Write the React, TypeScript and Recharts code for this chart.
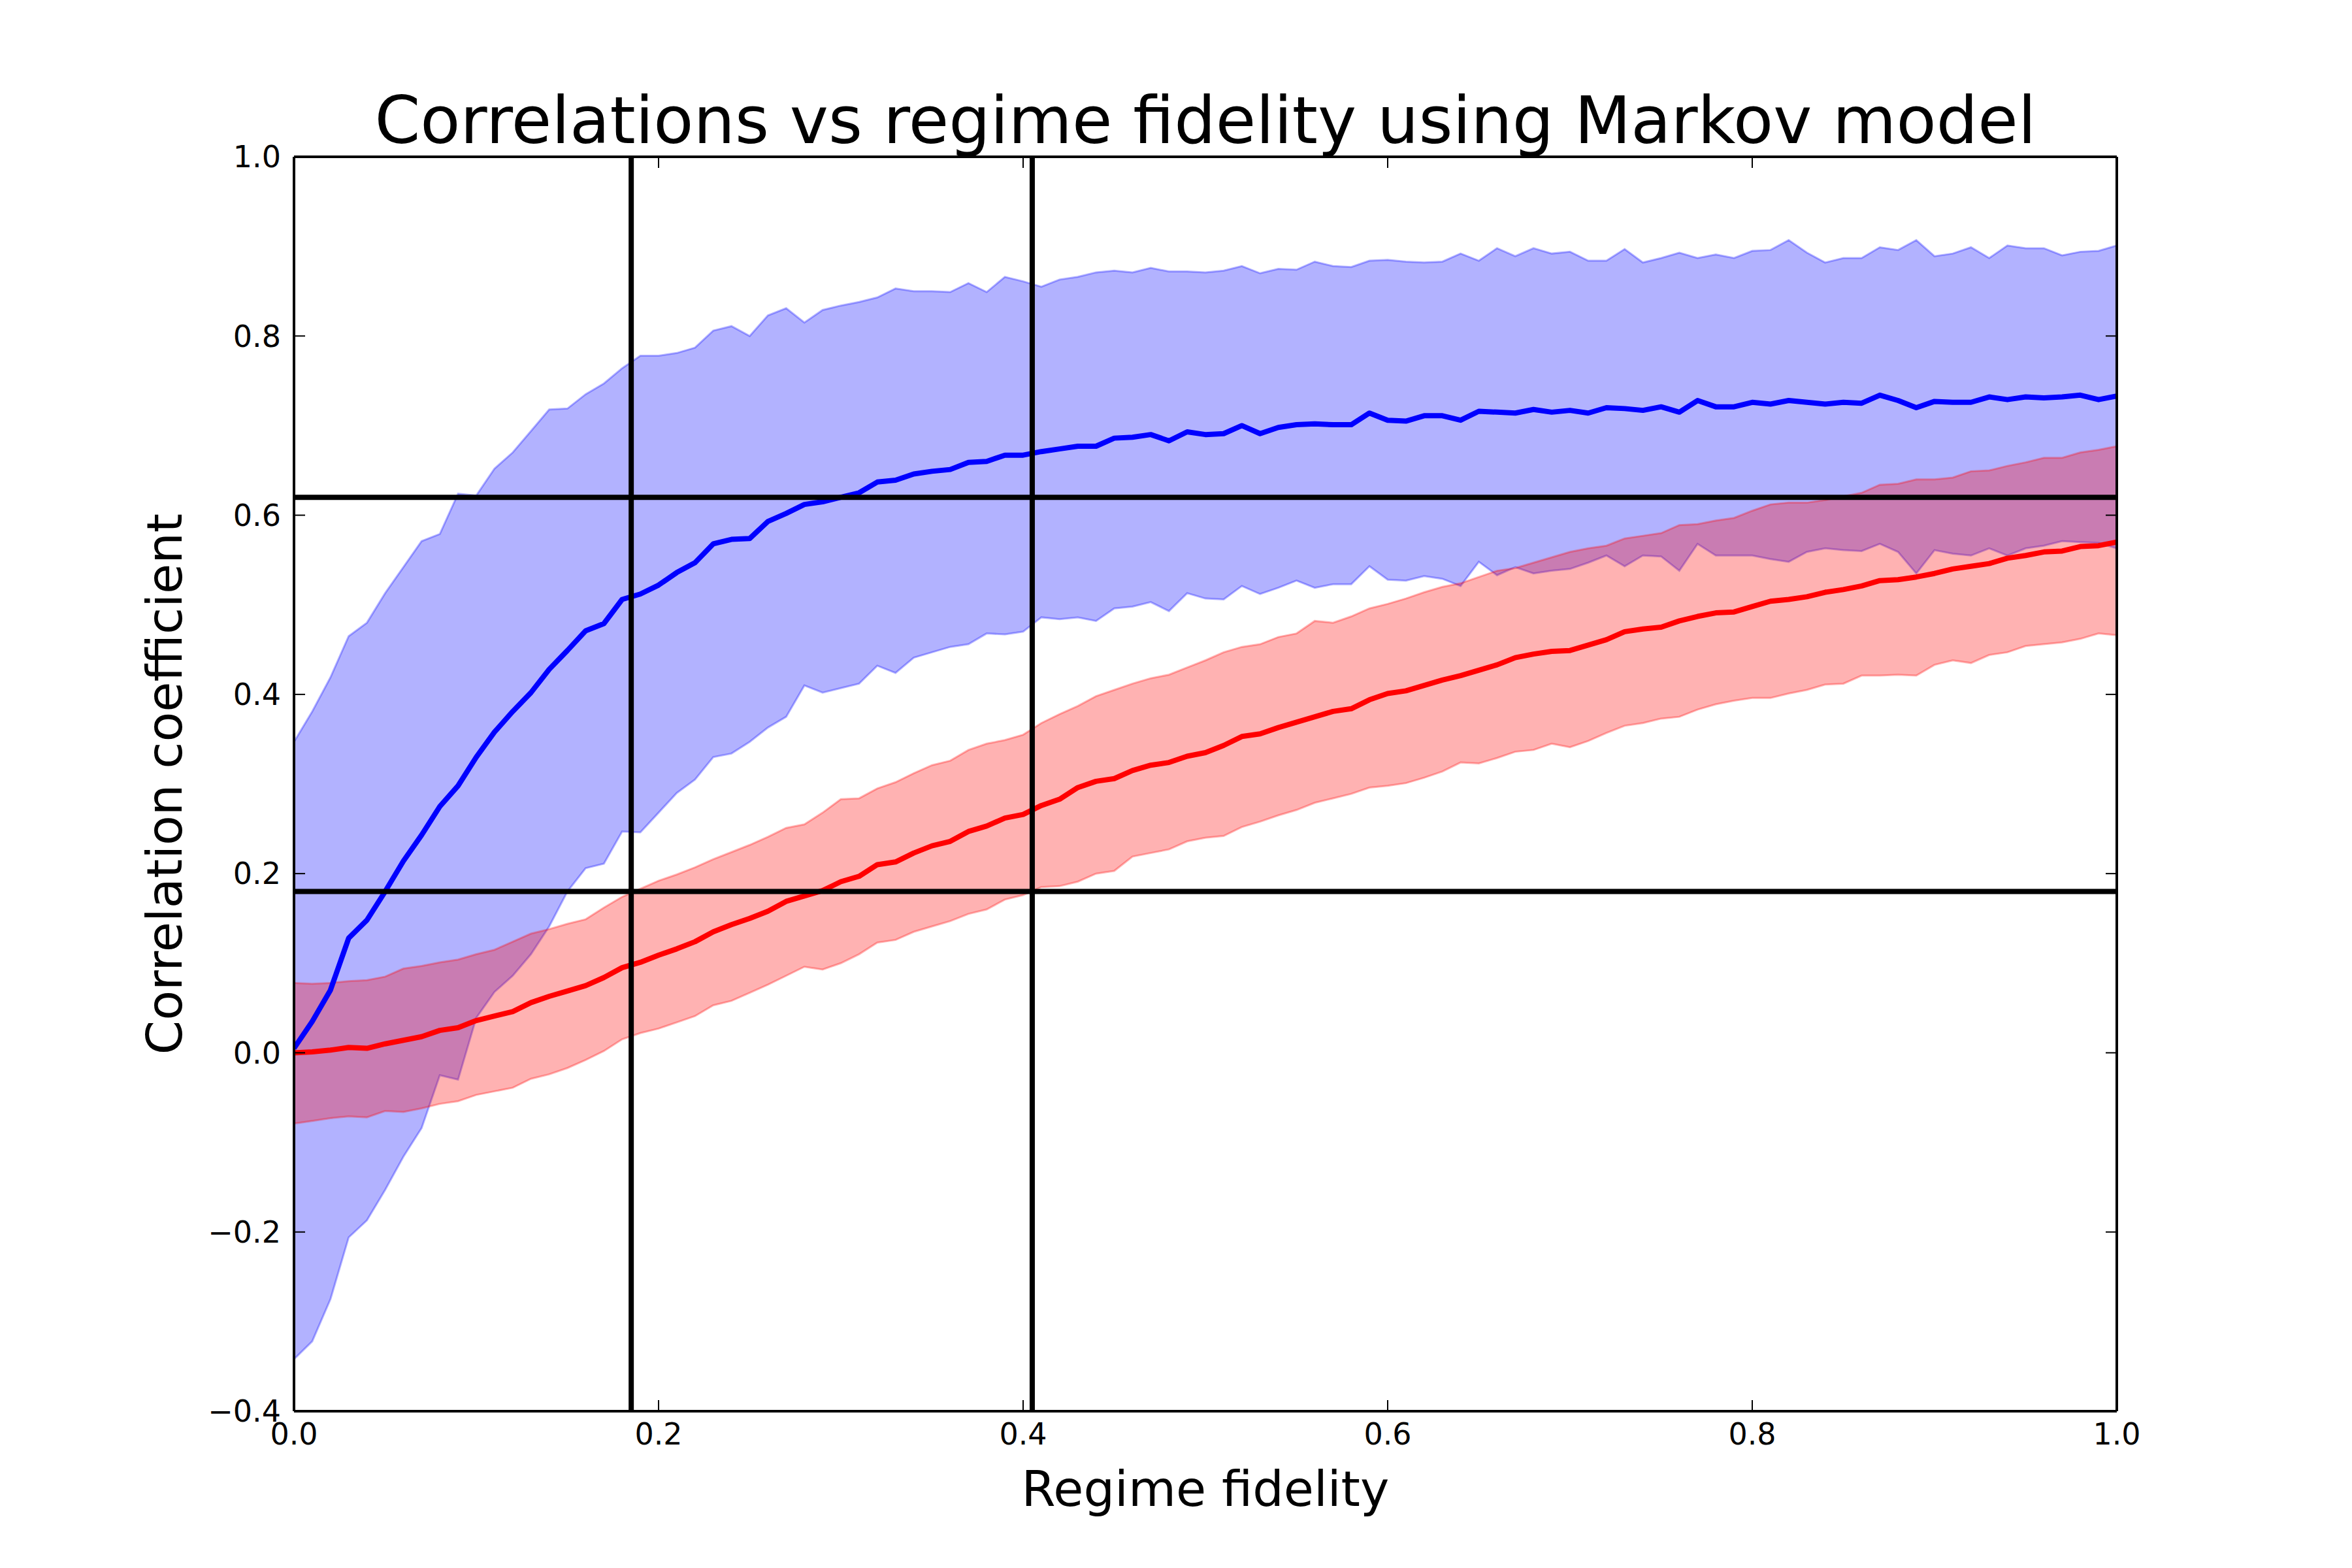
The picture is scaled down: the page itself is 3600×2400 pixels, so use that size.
import React from "react";
import {
  ComposedChart,
  Area,
  Line,
  XAxis,
  YAxis,
  ReferenceLine,
} from "recharts";

// regime fidelity grid, step 0.01
const fidelity = Array.from({ length: 101 }, (_, i) => i / 100);

// Markov model: mean correlation and spread band (blue)
const blueMean = [
  0.005, 0.035, 0.07, 0.128, 0.148, 0.18, 0.214, 0.243, 0.275, 0.298,
  0.33, 0.358, 0.381, 0.402, 0.428, 0.449, 0.471, 0.479, 0.506, 0.512,
  0.522, 0.536, 0.547, 0.568, 0.573, 0.574, 0.593, 0.602, 0.612, 0.615,
  0.62, 0.625, 0.637, 0.639, 0.646, 0.649, 0.651, 0.659, 0.66, 0.667,
  0.667, 0.671, 0.674, 0.677, 0.677, 0.686, 0.687, 0.69, 0.683, 0.693,
  0.69, 0.691, 0.7, 0.691, 0.698, 0.701, 0.702, 0.701, 0.701, 0.714,
  0.706, 0.705, 0.711, 0.711, 0.706, 0.716, 0.715, 0.714, 0.718, 0.715,
  0.717, 0.714, 0.72, 0.719, 0.717, 0.721, 0.715, 0.728, 0.721, 0.721,
  0.726, 0.724, 0.728, 0.726, 0.724, 0.726, 0.725, 0.734, 0.728, 0.72,
  0.727, 0.726, 0.726, 0.732, 0.729, 0.732, 0.731, 0.732, 0.734, 0.729,
  0.733,
];
const blueHigh = [
  0.347, 0.381, 0.419, 0.465, 0.48, 0.513, 0.542, 0.571, 0.579, 0.624,
  0.622, 0.652, 0.67, 0.694, 0.718, 0.719, 0.735, 0.747, 0.764, 0.778,
  0.778, 0.781, 0.787, 0.806, 0.811, 0.8, 0.823, 0.831, 0.815, 0.829,
  0.834, 0.838, 0.843, 0.853, 0.85, 0.85, 0.849, 0.859, 0.849, 0.866,
  0.861, 0.855, 0.863, 0.866, 0.871, 0.873, 0.871, 0.876, 0.872, 0.872,
  0.871, 0.873, 0.878, 0.87, 0.875, 0.874, 0.883, 0.878, 0.877, 0.884,
  0.885, 0.883, 0.882, 0.883, 0.892, 0.884, 0.898, 0.889, 0.898, 0.892,
  0.894, 0.884, 0.884, 0.897, 0.882, 0.887, 0.893, 0.887, 0.891, 0.887,
  0.895, 0.896, 0.907, 0.893, 0.882, 0.887, 0.887, 0.899, 0.896, 0.907,
  0.889, 0.892, 0.899, 0.887, 0.901, 0.898, 0.898, 0.89, 0.894, 0.895,
  0.901,
];
const blueLow = [
  -0.342, -0.322, -0.275, -0.206, -0.187, -0.153, -0.116, -0.084, -0.025, -0.03,
  0.039, 0.068, 0.086, 0.11, 0.141, 0.18, 0.206, 0.211, 0.247, 0.246,
  0.268, 0.29, 0.305, 0.33, 0.334, 0.347, 0.363, 0.375, 0.41, 0.402,
  0.407, 0.412, 0.432, 0.424, 0.441, 0.447, 0.453, 0.456, 0.468, 0.467,
  0.47, 0.486, 0.484, 0.486, 0.482, 0.496, 0.498, 0.503, 0.493, 0.513,
  0.507, 0.506, 0.521, 0.512, 0.519, 0.527, 0.519, 0.523, 0.523, 0.543,
  0.528, 0.527, 0.532, 0.529, 0.521, 0.548, 0.533, 0.542, 0.535, 0.538,
  0.54, 0.547, 0.555, 0.543, 0.555, 0.554, 0.538, 0.568, 0.555, 0.555,
  0.555, 0.551, 0.548, 0.559, 0.563, 0.561, 0.56, 0.568, 0.559, 0.535,
  0.561, 0.557, 0.555, 0.563, 0.555, 0.563, 0.566, 0.571, 0.57, 0.569,
  0.563,
];

// second estimate (red)
const redMean = [
  0.0, 0.001, 0.003, 0.006, 0.005, 0.01, 0.014, 0.018, 0.025, 0.028,
  0.036, 0.041, 0.046, 0.056, 0.063, 0.069, 0.075, 0.084, 0.095, 0.101,
  0.109, 0.116, 0.124, 0.135, 0.143, 0.15, 0.158, 0.169, 0.175, 0.181,
  0.191, 0.197, 0.21, 0.213, 0.223, 0.231, 0.236, 0.247, 0.253, 0.262,
  0.266, 0.276, 0.283, 0.296, 0.303, 0.306, 0.315, 0.321, 0.324, 0.331,
  0.335, 0.343, 0.353, 0.356, 0.363, 0.369, 0.375, 0.381, 0.384, 0.394,
  0.401, 0.404, 0.41, 0.416, 0.421, 0.427, 0.433, 0.441, 0.445, 0.448,
  0.449, 0.455, 0.461, 0.47, 0.473, 0.475, 0.482, 0.487, 0.491, 0.492,
  0.498, 0.504, 0.506, 0.509, 0.514, 0.517, 0.521, 0.527, 0.528, 0.531,
  0.535, 0.54, 0.543, 0.546, 0.552, 0.555, 0.559, 0.56, 0.565, 0.566,
  0.57,
];
const redHigh = [
  0.078, 0.077, 0.078, 0.08, 0.081, 0.085, 0.094, 0.097, 0.101, 0.104,
  0.11, 0.115, 0.124, 0.133, 0.138, 0.144, 0.149, 0.162, 0.174, 0.183,
  0.192, 0.199, 0.207, 0.216, 0.224, 0.232, 0.241, 0.251, 0.255, 0.268,
  0.283, 0.284, 0.295, 0.302, 0.312, 0.321, 0.326, 0.338, 0.345, 0.349,
  0.355, 0.368, 0.378, 0.387, 0.398, 0.405, 0.412, 0.418, 0.422, 0.43,
  0.438, 0.447, 0.453, 0.456, 0.464, 0.468, 0.482, 0.48, 0.487, 0.496,
  0.501, 0.507, 0.514, 0.52, 0.524, 0.531, 0.538, 0.541, 0.547, 0.553,
  0.559, 0.563, 0.566, 0.574, 0.577, 0.58, 0.589, 0.59, 0.594, 0.597,
  0.605, 0.612, 0.614, 0.614, 0.617, 0.621, 0.625, 0.634, 0.635, 0.64,
  0.64, 0.642, 0.649, 0.65, 0.655, 0.659, 0.664, 0.664, 0.67, 0.673,
  0.677,
];
const redLow = [
  -0.079, -0.076, -0.073, -0.071, -0.072, -0.065, -0.066, -0.062, -0.057, -0.054,
  -0.047, -0.043, -0.039, -0.029, -0.024, -0.017, -0.008, 0.002, 0.015, 0.022,
  0.027, 0.034, 0.041, 0.053, 0.058, 0.067, 0.076, 0.086, 0.096, 0.093,
  0.1, 0.11, 0.123, 0.126, 0.135, 0.141, 0.147, 0.155, 0.16, 0.171,
  0.176, 0.185, 0.186, 0.191, 0.2, 0.203, 0.219, 0.223, 0.227, 0.236,
  0.24, 0.242, 0.252, 0.258, 0.265, 0.271, 0.279, 0.284, 0.289, 0.296,
  0.298, 0.301, 0.307, 0.314, 0.324, 0.323, 0.329, 0.336, 0.338, 0.345,
  0.341, 0.348, 0.357, 0.365, 0.368, 0.373, 0.375, 0.383, 0.389, 0.393,
  0.396, 0.396, 0.401, 0.405, 0.411, 0.412, 0.421, 0.421, 0.422, 0.421,
  0.433, 0.438, 0.435, 0.444, 0.447, 0.454, 0.456, 0.458, 0.462, 0.468,
  0.466,
];

// threshold lines
const thresholdX = [0.185, 0.405];
const thresholdY = [0.62, 0.18];

const xTicks = [0, 0.2, 0.4, 0.6, 0.8, 1.0];
const yTicks = [-0.4, -0.2, 0, 0.2, 0.4, 0.6, 0.8, 1.0];

const data = fidelity.map((x, i) => ({
  x,
  blueBand: [blueLow[i], blueHigh[i]],
  blueMean: blueMean[i],
  redBand: [redLow[i], redHigh[i]],
  redMean: redMean[i],
}));

const FONT = "DejaVu Sans";
const fmt = (v: number) => {
  const s = Math.abs(v).toFixed(1);
  return v < -1e-9 ? "\u2212" + s : s;
};
const tickStyle = { fontSize: 46, fill: "#000", fontFamily: FONT };
const axisLine = { stroke: "#000", strokeWidth: 4 };
const tickLine = { stroke: "#000", strokeWidth: 2 };

export default function App() {
  return (
    <div style={{ position: "absolute", left: 0, top: 0, width: 3600, height: 2400, background: "#fff" }}>
      <ComposedChart
        width={3600}
        height={2400}
        data={data}
        margin={{ top: 220, right: 340, bottom: 160, left: 350 }}
      >
        <XAxis
          xAxisId="bottom"
          dataKey="x"
          type="number"
          domain={[0, 1]}
          ticks={xTicks}
          allowDataOverflow
          height={80}
          tickSize={-17}
          tickMargin={35}
          tick={tickStyle}
          tickFormatter={fmt}
          axisLine={axisLine}
          tickLine={tickLine}
        />
        {/* mirrored ticks on top edge */}
        <XAxis
          xAxisId="top"
          dataKey="x"
          orientation="top"
          type="number"
          domain={[0, 1]}
          ticks={xTicks}
          allowDataOverflow
          height={20}
          tickSize={-17}
          tickFormatter={() => ""}
          axisLine={axisLine}
          tickLine={tickLine}
        />
        <YAxis
          yAxisId="left"
          type="number"
          domain={[-0.4, 1.0]}
          ticks={yTicks}
          allowDataOverflow
          width={100}
          tickSize={-17}
          tickMargin={37}
          tick={tickStyle}
          tickFormatter={fmt}
          axisLine={axisLine}
          tickLine={tickLine}
        />
        <YAxis
          yAxisId="right"
          orientation="right"
          type="number"
          domain={[-0.4, 1.0]}
          ticks={yTicks}
          allowDataOverflow
          width={20}
          tickSize={-17}
          tickFormatter={() => ""}
          axisLine={axisLine}
          tickLine={tickLine}
        />

        <Area
          xAxisId="bottom"
          yAxisId="left"
          type="linear"
          dataKey="blueBand"
          fill="#0000ff"
          fillOpacity={0.3}
          stroke="#0000ff"
          strokeOpacity={0.3}
          strokeWidth={3}
          dot={false}
          activeDot={false}
          isAnimationActive={false}
        />
        <Area
          xAxisId="bottom"
          yAxisId="left"
          type="linear"
          dataKey="redBand"
          fill="#ff0000"
          fillOpacity={0.3}
          stroke="#ff0000"
          strokeOpacity={0.3}
          strokeWidth={3}
          dot={false}
          activeDot={false}
          isAnimationActive={false}
        />
        <Line
          xAxisId="bottom"
          yAxisId="left"
          type="linear"
          dataKey="blueMean"
          stroke="#0000ff"
          strokeWidth={8}
          strokeLinejoin="round"
          dot={false}
          activeDot={false}
          isAnimationActive={false}
        />
        <Line
          xAxisId="bottom"
          yAxisId="left"
          type="linear"
          dataKey="redMean"
          stroke="#ff0000"
          strokeWidth={8}
          strokeLinejoin="round"
          dot={false}
          activeDot={false}
          isAnimationActive={false}
        />

        {thresholdY.map((y) => (
          <ReferenceLine key={"y" + y} xAxisId="bottom" yAxisId="left" y={y} stroke="#000" strokeWidth={8} />
        ))}
        {thresholdX.map((x) => (
          <ReferenceLine key={"x" + x} xAxisId="bottom" yAxisId="left" x={x} stroke="#000" strokeWidth={8} />
        ))}
      </ComposedChart>

      <svg
        width={3600}
        height={2400}
        style={{ position: "absolute", left: 0, top: 0, pointerEvents: "none" }}
      >
        <text x={1845} y={219} textAnchor="middle" fontSize={100} fontFamily={FONT} fill="#000">
          Correlations vs regime fidelity using Markov model
        </text>
        <text x={1845} y={2305} textAnchor="middle" fontSize={75} fontFamily={FONT} fill="#000">
          Regime fidelity
        </text>
        <text
          transform="translate(278,1200) rotate(-90)"
          textAnchor="middle"
          fontSize={75}
          fontFamily={FONT}
          fill="#000"
        >
          Correlation coefficient
        </text>
      </svg>
    </div>
  );
}
